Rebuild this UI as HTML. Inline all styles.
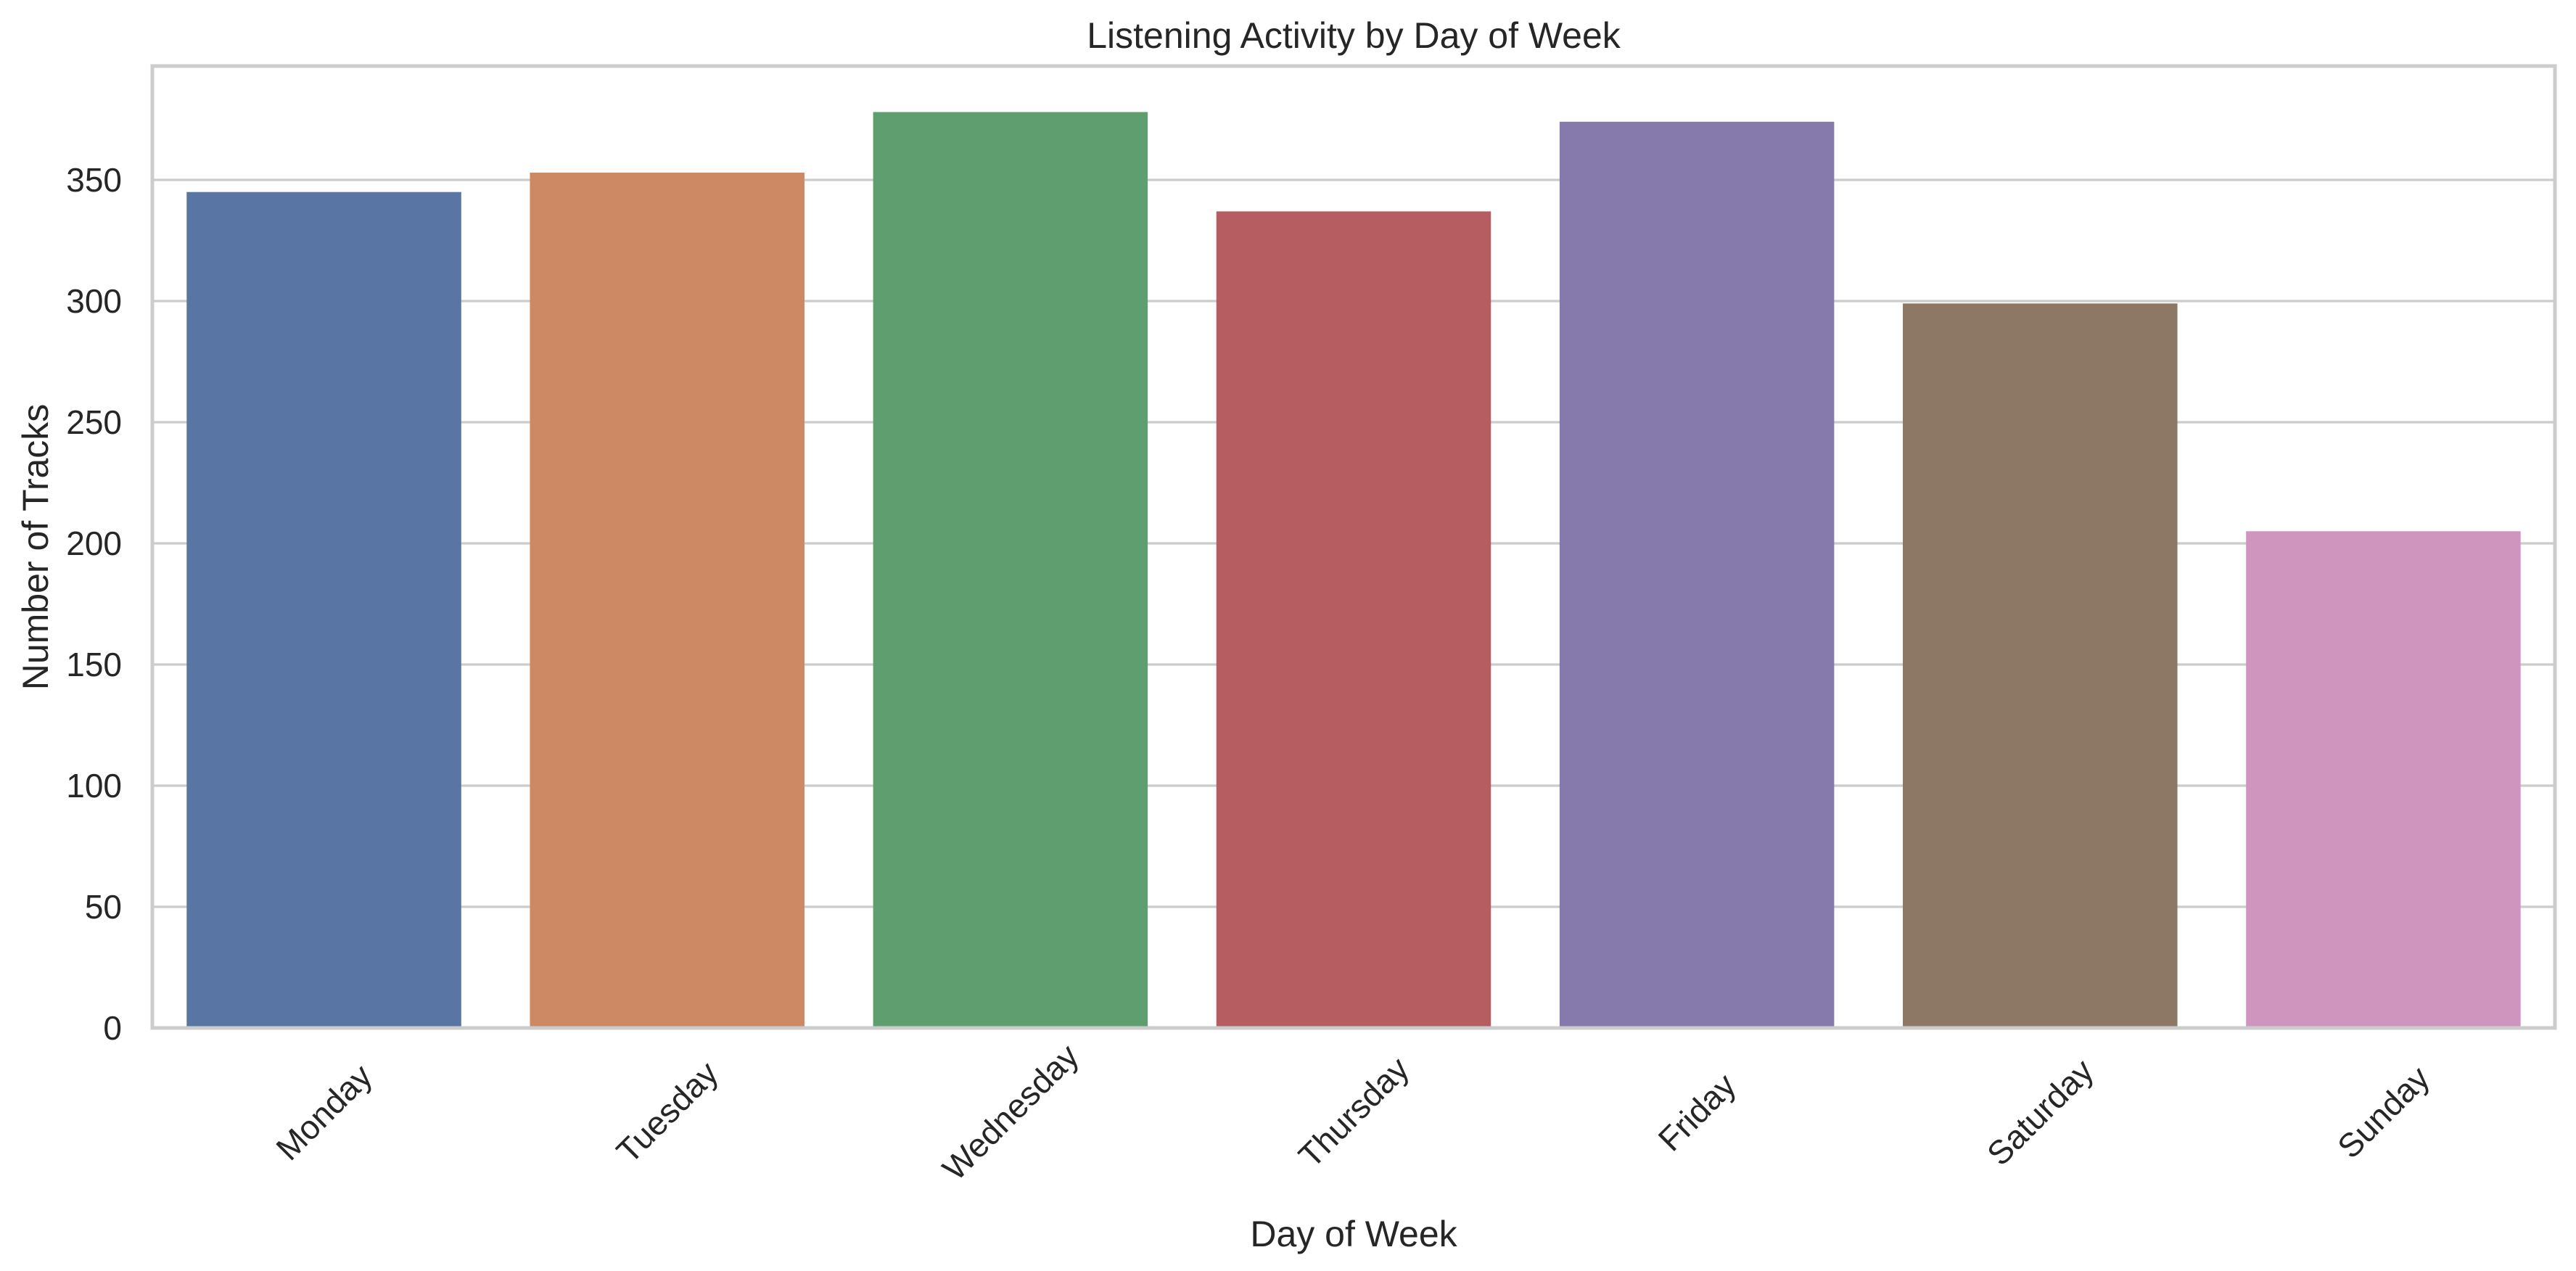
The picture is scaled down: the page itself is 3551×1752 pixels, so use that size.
<!DOCTYPE html>
<html><head><meta charset="utf-8"><style>
html,body{margin:0;padding:0;background:#fff;}
svg{display:block;font-family:"Liberation Sans",Arial,sans-serif;}
</style></head><body>
<svg id="chart" width="3551" height="1752" viewBox="0 0 3551 1752" xmlns="http://www.w3.org/2000/svg">
<rect width="3551" height="1752" fill="#fff"/>
<g id="grid"></g><g id="bars"></g><g id="spines"></g><g id="ticks"></g>
<text x="1866" y="66" font-size="50" text-anchor="middle" fill="#262626">Listening Activity by Day of Week</text>
<text x="1866" y="1718" font-size="50" text-anchor="middle" fill="#262626">Day of Week</text>
<text x="0" y="0" font-size="50" text-anchor="middle" fill="#262626" transform="translate(66,754) rotate(-90)">Number of Tracks</text>
</svg>
<script>
const categories = ["Monday","Tuesday","Wednesday","Thursday","Friday","Saturday","Sunday"];
const values = [345, 353, 378, 337, 374, 299, 205];
const colors = ["#5975a4","#cc8963","#5f9e6e","#b55d60","#857aab","#8d7866","#d095bf"];
const yTicks = [0, 50, 100, 150, 200, 250, 300, 350];
const yMax = 397;

const NS = "http://www.w3.org/2000/svg";
const L = 210, R = 3522, T = 91, B = 1417;
const band = (R - L) / categories.length;
const xPos = i => L + band * (i + 0.5);
const yPos = v => B - (v / yMax) * (B - T);
function mk(tag, attrs, parent) {
  const e = document.createElementNS(NS, tag);
  for (const k in attrs) e.setAttribute(k, attrs[k]);
  document.getElementById(parent).appendChild(e);
  return e;
}
yTicks.forEach(t => {
  const g = mk("line", {x1: L, x2: R, y1: yPos(t), y2: yPos(t), stroke: "#cccccc", "stroke-width": 3.3}, "grid");
  
  
  const lb = mk("text", {x: 168, y: yPos(t) + 16, "font-size": 46, "text-anchor": "end", fill: "#262626"}, "ticks");
  lb.textContent = t;
  
  
});
categories.forEach((c, i) => {
  const w = band * 0.8;
  const r = mk("rect", {x: xPos(i) - w / 2, y: yPos(values[i]), width: w, height: B - yPos(values[i]), fill: colors[i]}, "bars");
  
  
  const lb = mk("text", {x: 0, y: 16, "font-size": 46, "text-anchor": "middle", fill: "#262626", transform: `translate(${xPos(i)},1533) rotate(-45)`}, "ticks");
  lb.textContent = c;
  
  
});
const sp = mk("rect", {x: L, y: T, width: R - L, height: B - T, fill: "none", stroke: "#cccccc", "stroke-width": 5}, "spines");


</script>
</body></html>
